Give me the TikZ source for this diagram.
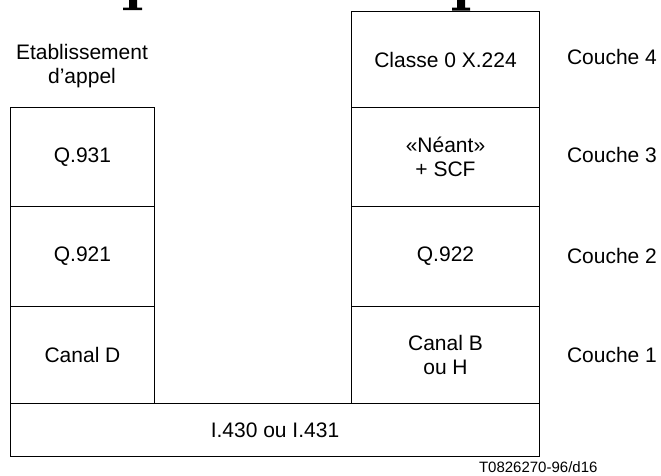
\documentclass[tikz,border=0pt]{standalone}
\usepackage{fontspec}
\setmainfont{Liberation Sans}
\begin{document}
\begin{tikzpicture}[x=1pt,y=-1pt,
  layer/.style={draw=black,line width=1pt,inner sep=0pt,align=center,
    font=\fontsize{21}{24}\selectfont},
  side/.style={align=center,font=\fontsize{21}{24}\selectfont},
  glyph/.style={fill=black}]
\useasboundingbox (0,0) rectangle (661,475);
% descenders of the heading letters, cut by the top edge
\fill[glyph] (129,0) rectangle (137,8) (123,7.5) rectangle (142,10);
\fill[glyph] (457,0) rectangle (465,8) (452,7.5) rectangle (470,10.5);
% left stack
\node[layer,minimum width=144pt,minimum height=99pt,anchor=north west] (q931) at (10,107) {Q.931};
\node[layer,minimum width=144pt,minimum height=100pt,anchor=north west] (q921) at (10,206) {Q.921};
\node[layer,minimum width=144pt,minimum height=97pt,anchor=north west] (cand) at (10,306) {Canal D};
% right stack
\node[layer,minimum width=188pt,minimum height=96pt,anchor=north west] (x224) at (351,11) {Classe 0 X.224};
\node[layer,minimum width=188pt,minimum height=99pt,anchor=north west] (neant) at (351,107) {«Néant»\\+ SCF};
\node[layer,minimum width=188pt,minimum height=100pt,anchor=north west] (q922) at (351,206) {Q.922};
\node[layer,minimum width=188pt,minimum height=97pt,anchor=north west] (canb) at (351,306) {Canal B\\ou H};
% physical layer
\node[layer,minimum width=529pt,minimum height=53pt,anchor=north west] (i430) at (10,403) {I.430 ou I.431};
% labels
\node[side] (etab) at (82,66) {Etablissement\\d’appel};
\node[side] (c4) at (612,57) {Couche 4};
\node[side] (c3) at (612,155) {Couche 3};
\node[side] (c2) at (612,256) {Couche 2};
\node[side] (c1) at (612,355) {Couche 1};
\node[font=\fontsize{15}{18}\selectfont,anchor=east] (ref) at (601,467) {T0826270-96/d16};
\end{tikzpicture}
\end{document}
